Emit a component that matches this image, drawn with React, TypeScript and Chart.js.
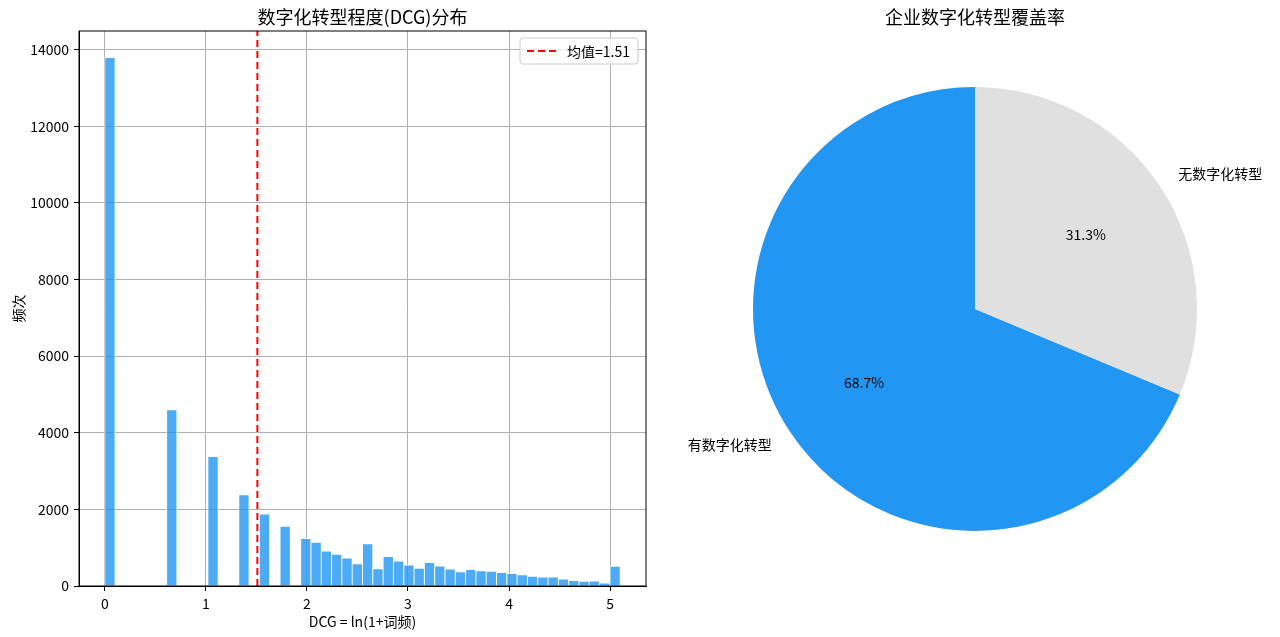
import React, { useEffect, useRef } from 'react'
import { Chart, ChartConfiguration, Plugin, registerables } from 'chart.js'

Chart.register(...registerables)

const FONT = "'Noto Sans CJK SC', 'Noto Sans', sans-serif"
Chart.defaults.font.family = FONT
Chart.defaults.color = '#000'

// histogram of DCG = ln(1+词频), 50 bins from 0
const BIN_WIDTH = 0.102
const binCounts = [
  13800, 0, 0, 0, 0, 0, 4600, 0, 0, 0,
  3380, 0, 0, 2380, 0, 1880, 0, 1560, 0, 1240,
  1140, 910, 830, 730, 580, 1100, 450, 770, 650, 550,
  460, 610, 520, 440, 370, 430, 395, 386, 350, 325,
  290, 255, 236, 236, 185, 140, 122, 130, 80, 515,
]
const xTicks = [0, 1, 2, 3, 4, 5]
const yTicks = [0, 2000, 4000, 6000, 8000, 10000, 12000, 14000]
const meanDCG = 1.51

const histTitle = '数字化转型程度(DCG)分布'
const histXLabel = 'DCG = ln(1+词频)'
const histYLabel = '频次'

const pieTitle = '企业数字化转型覆盖率'
const pieLabels = ['有数字化转型', '无数字化转型']
const pieShares = [68.7, 31.3]
const pieColors = ['#2196F3', '#E0E0E0']

const spinesPlugin: Plugin = {
  id: 'spines',
  afterDatasetsDraw(chart) {
    const { ctx, chartArea: a } = chart
    ctx.save()
    ctx.strokeStyle = '#000'
    ctx.lineWidth = 1
    ctx.strokeRect(a.left, a.top, a.right - a.left, a.bottom - a.top)
    ctx.restore()
  },
}

const meanLegendPlugin: Plugin = {
  id: 'meanLegend',
  afterDraw(chart) {
    const { ctx, chartArea: a } = chart
    const text = '均值=' + meanDCG.toFixed(2)
    ctx.save()
    ctx.font = `14px ${FONT}`
    const tw = ctx.measureText(text).width
    const w = 7 + 30 + 10 + tw + 8
    const h = 26
    const x = a.right - 8 - w
    const y = a.top + 7
    ctx.fillStyle = 'rgba(255,255,255,0.8)'
    ctx.strokeStyle = '#cccccc'
    ctx.lineWidth = 1
    ctx.beginPath()
    ctx.roundRect(x, y, w, h, 3)
    ctx.fill()
    ctx.stroke()
    ctx.strokeStyle = 'red'
    ctx.lineWidth = 2
    ctx.setLineDash([7, 4])
    ctx.beginPath()
    ctx.moveTo(x + 7, y + h / 2)
    ctx.lineTo(x + 37, y + h / 2)
    ctx.stroke()
    ctx.setLineDash([])
    ctx.fillStyle = '#000'
    ctx.textBaseline = 'middle'
    ctx.fillText(text, x + 47, y + h / 2 + 1)
    ctx.restore()
  },
}

const pieLabelPlugin: Plugin = {
  id: 'pieLabels',
  afterDatasetsDraw(chart) {
    const ctx = chart.ctx
    const meta = chart.getDatasetMeta(0)
    meta.data.forEach((arc: any, i: number) => {
      const { x, y, startAngle, endAngle, outerRadius } = arc.getProps(
        ['x', 'y', 'startAngle', 'endAngle', 'outerRadius'],
        true
      )
      const mid = (startAngle + endAngle) / 2
      const cos = Math.cos(mid)
      const sin = Math.sin(mid)
      ctx.save()
      ctx.font = `14px ${FONT}`
      ctx.fillStyle = '#000'
      ctx.textBaseline = 'middle'
      ctx.textAlign = cos < 0 ? 'right' : 'left'
      ctx.fillText(pieLabels[i], x + cos * outerRadius * 1.1, y + sin * outerRadius * 1.1)
      ctx.textAlign = 'center'
      ctx.fillText(pieShares[i].toFixed(1) + '%', x + cos * outerRadius * 0.6, y + sin * outerRadius * 0.6)
      ctx.restore()
    })
  },
}

const HistChart = () => {
  const canvasRef = useRef<HTMLCanvasElement>(null)

  useEffect(() => {
    const maxCount = Math.max(...binCounts)
    const yMax = maxCount * 1.05
    const span = binCounts.length * BIN_WIDTH
    const axisGrid = {
      color: '#b0b0b0',
      lineWidth: 1,
      tickLength: 5,
      tickColor: '#000',
      offset: false,
    }

    const config: ChartConfiguration = {
      type: 'bar',
      data: {
        datasets: [
          {
            type: 'line',
            label: '均值=' + meanDCG.toFixed(2),
            data: [
              { x: meanDCG, y: 0 },
              { x: meanDCG, y: yMax },
            ],
            borderColor: 'red',
            borderWidth: 2,
            borderDash: [7, 4],
            pointRadius: 0,
            order: 0,
          } as any,
          {
            type: 'bar',
            label: histYLabel,
            data: binCounts.map((c, i) => ({ x: (i + 0.5) * BIN_WIDTH, y: c })),
            backgroundColor: 'rgba(33,150,243,0.8)',
            borderColor: '#ffffff',
            borderWidth: 0.8,
            barPercentage: 1,
            categoryPercentage: 1,
            order: 1,
          },
        ],
      },
      options: {
        animation: false,
        responsive: false,
        layout: { padding: { left: 0, right: 14, top: 0, bottom: 0 } },
        scales: {
          x: {
            type: 'linear',
            min: -0.05 * span,
            max: span * 1.05,
            offset: false,
            afterBuildTicks: (scale) => {
              scale.ticks = xTicks.map((v) => ({ value: v }))
            },
            afterFit: (scale) => {
              scale.height = 51
            },
            ticks: {
              font: { size: 14 },
              color: '#000',
              padding: 4,
              maxRotation: 0,
              callback: (v) => String(v),
            },
            grid: axisGrid,
            border: { display: true, color: '#000', width: 1 },
            title: {
              display: true,
              text: histXLabel,
              font: { size: 14 },
              color: '#000',
              padding: { top: 0, bottom: 7 },
            },
          },
          y: {
            type: 'linear',
            min: 0,
            max: yMax,
            afterBuildTicks: (scale) => {
              scale.ticks = yTicks.map((v) => ({ value: v }))
            },
            afterFit: (scale) => {
              scale.width = 79
            },
            ticks: { font: { size: 14 }, color: '#000', padding: 5, callback: (v) => String(v) },
            grid: axisGrid,
            border: { display: true, color: '#000', width: 1 },
            title: {
              display: true,
              text: histYLabel,
              font: { size: 14 },
              color: '#000',
              padding: { top: 10, bottom: 0 },
            },
          },
        },
        plugins: {
          legend: { display: false },
          tooltip: { enabled: false },
          title: {
            display: true,
            text: histTitle,
            fullSize: false,
            font: { size: 18, weight: 'normal' },
            color: '#000',
            padding: { top: 6, bottom: 3.4 },
          },
        },
      },
      plugins: [spinesPlugin, meanLegendPlugin],
    }

    const chart = new Chart(canvasRef.current!, config)
    return () => {
      chart.destroy()
    }
  }, [])

  return <canvas ref={canvasRef} width={660} height={637}></canvas>
}

const PieChart = () => {
  const canvasRef = useRef<HTMLCanvasElement>(null)

  useEffect(() => {
    const total = pieShares.reduce((s, v) => s + v, 0)
    // first slice runs counter-clockwise from the top, as in the reference
    const rotation = 360 - (360 * pieShares[0]) / total

    const config: ChartConfiguration = {
      type: 'pie',
      data: {
        labels: pieLabels,
        datasets: [
          {
            data: pieShares,
            backgroundColor: pieColors,
            borderWidth: 0,
            rotation,
          },
        ],
      },
      options: {
        animation: false,
        responsive: false,
        layout: { padding: { left: 93, right: 83, top: 0, bottom: 106 } },
        plugins: {
          legend: { display: false },
          tooltip: { enabled: false },
          title: {
            display: true,
            text: pieTitle,
            fullSize: false,
            font: { size: 18, weight: 'normal' },
            color: '#000',
            padding: { top: 6, bottom: 59.4 },
          },
        },
      },
      plugins: [pieLabelPlugin],
    }

    const chart = new Chart(canvasRef.current!, config)
    return () => {
      chart.destroy()
    }
  }, [])

  return <canvas ref={canvasRef} width={620} height={637}></canvas>
}

const App = () => {
  return (
    <div
      style={{
        position: 'absolute',
        left: 0,
        top: 0,
        width: 1280,
        height: 637,
        background: '#fff',
        overflow: 'hidden',
      }}
    >
      <div style={{ position: 'absolute', left: 0, top: 0, width: 660, height: 637 }}>
        <HistChart />
      </div>
      <div style={{ position: 'absolute', left: 660, top: 0, width: 620, height: 637 }}>
        <PieChart />
      </div>
    </div>
  )
}

export default App
